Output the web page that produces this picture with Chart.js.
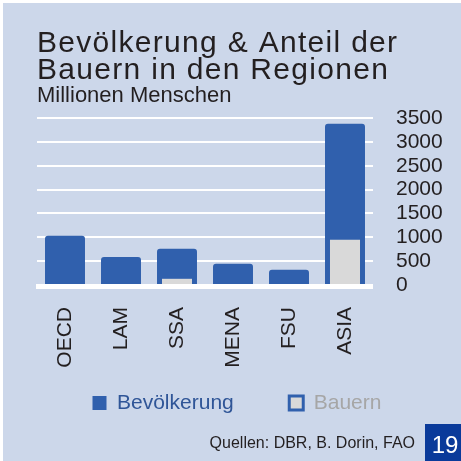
<!DOCTYPE html>
<html>
<head>
<meta charset="utf-8">
<script src="https://cdn.jsdelivr.net/npm/chart.js@4.4.1/dist/chart.umd.min.js"></script>
<style>
  html, body { margin: 0; padding: 0; background: #fff; }
  #graph { display: block; }
</style>
</head>
<body>
<canvas id="graph" width="461" height="461"></canvas>
<script>
// data (million people)
const regions = ['OECD', 'LAM', 'SSA', 'MENA', 'FSU', 'ASIA'];
const population = [1030, 585, 760, 445, 320, 3380];
const farmers = [null, null, 130, null, null, 950];
const yMax = 3500;
const yStep = 500;

const titleLines = ['Bevölkerung & Anteil der', 'Bauern in den Regionen'];
const subtitleText = 'Millionen Menschen';
const sourceText = 'Quellen: DBR, B. Dorin, FAO';
const pageNumber = '19';

const BG = '#ccd7ea';
const BLUE = '#3060ad';
const GREY = '#d9d9d9';
const INK = '#231f20';

Chart.defaults.font.family = "'Liberation Sans', Arial, sans-serif";
Chart.defaults.color = INK;

// page background + white margin on top/left
const background = {
  id: 'background',
  beforeDraw(chart) {
    const c = chart.ctx;
    c.save();
    c.fillStyle = BG;
    c.fillRect(0, 0, chart.width, chart.height);
    c.fillStyle = '#fff';
    c.fillRect(0, 0, chart.width, 3);
    c.fillRect(0, 0, 3, chart.height);
    c.restore();
  }
};

// spaced-out title, and let the rotated x labels hang below their box
const tweaks = {
  id: 'tweaks',
  afterLayout(chart) {
    const box = chart.titleBlock;
    if (box && !box._spaced) {
      const draw = box.draw.bind(box);
      box.draw = function () {
        chart.ctx.save();
        chart.ctx.letterSpacing = '1.3px';
        draw();
        chart.ctx.restore();
      };
      box._spaced = true;
    }
    chart.scales.x._computeLabelArea = () => undefined;
  }
};

// thick white base line over the bars
const baseLine = {
  id: 'baseLine',
  afterDatasetsDraw(chart) {
    const c = chart.ctx;
    const y = chart.scales.y.getPixelForValue(0);
    c.save();
    c.strokeStyle = '#fff';
    c.lineWidth = 5;
    c.beginPath();
    c.moveTo(chart.chartArea.left - 1, y + 1.5);
    c.lineTo(chart.chartArea.right, y + 1.5);
    c.stroke();
    c.restore();
  }
};

// source line and page number box
const footer = {
  id: 'footer',
  afterDraw(chart) {
    const c = chart.ctx;
    c.save();
    c.fillStyle = INK;
    c.font = "16px 'Liberation Sans', Arial, sans-serif";
    c.textAlign = 'right';
    c.textBaseline = 'middle';
    c.fillText(sourceText, 415, 444);
    c.fillStyle = '#0a3a9a';
    c.fillRect(425, 424, 36, 37);
    c.fillStyle = '#fff';
    c.font = "24px 'Liberation Sans', Arial, sans-serif";
    c.textAlign = 'center';
    c.fillText(pageNumber, 445, 446);
    c.restore();
  }
};

new Chart(document.getElementById('graph'), {
  type: 'bar',
  data: {
    labels: regions,
    datasets: [
      {
        label: 'Bevölkerung',
        data: population,
        backgroundColor: BLUE,
        borderRadius: { topLeft: 3, topRight: 3 },
        borderSkipped: 'bottom',
        barPercentage: 0.714,
        categoryPercentage: 1,
        order: 1
      },
      {
        label: 'Bauern',
        data: farmers,
        backgroundColor: GREY,
        barPercentage: 0.536,
        categoryPercentage: 1,
        order: 0
      }
    ]
  },
  options: {
    responsive: false,
    animation: false,
    datasets: { bar: { grouped: false } },
    layout: { padding: { left: 37, right: 0, top: 0, bottom: 37.5 } },
    scales: {
      x: {
        grid: { display: false },
        border: { display: false },
        ticks: {
          autoSkip: false,
          maxRotation: 90,
          minRotation: 90,
          padding: 14,
          color: INK,
          font: { size: 21 }
        },
        afterFit(s) { s.height = 52; }
      },
      y: {
        position: 'right',
        min: 0,
        max: yMax,
        grid: { color: '#fff', lineWidth: 2, drawTicks: false },
        border: { display: false },
        ticks: {
          stepSize: yStep,
          autoSkip: false,
          padding: 23,
          color: INK,
          font: { size: 21 },
          callback: (v) => String(v)
        },
        afterFit(s) { s.width = 88; }
      }
    },
    plugins: {
      title: {
        display: true,
        text: titleLines,
        align: 'start',
        color: INK,
        font: { size: 30, weight: 'normal', lineHeight: 27 / 30 },
        padding: { top: 30.5, bottom: 0 }
      },
      subtitle: {
        display: true,
        text: subtitleText,
        align: 'start',
        color: INK,
        font: { size: 22, lineHeight: 1 },
        padding: { top: 0, bottom: 11.5 }
      },
      legend: {
        position: 'bottom',
        align: 'start',
        labels: {
          boxWidth: 14,
          boxHeight: 14,
          padding: 55.5,
          font: { size: 21 },
          generateLabels() {
            return [
              { text: 'Bevölkerung', fillStyle: BLUE, strokeStyle: BLUE, lineWidth: 0, fontColor: '#2f5597', datasetIndex: 0 },
              { text: 'Bauern', fillStyle: GREY, strokeStyle: BLUE, lineWidth: 3, fontColor: '#a6a6a6', datasetIndex: 1 }
            ];
          }
        }
      },
      tooltip: { enabled: false }
    }
  },
  plugins: [background, tweaks, baseLine, footer]
});
</script>
</body>
</html>
